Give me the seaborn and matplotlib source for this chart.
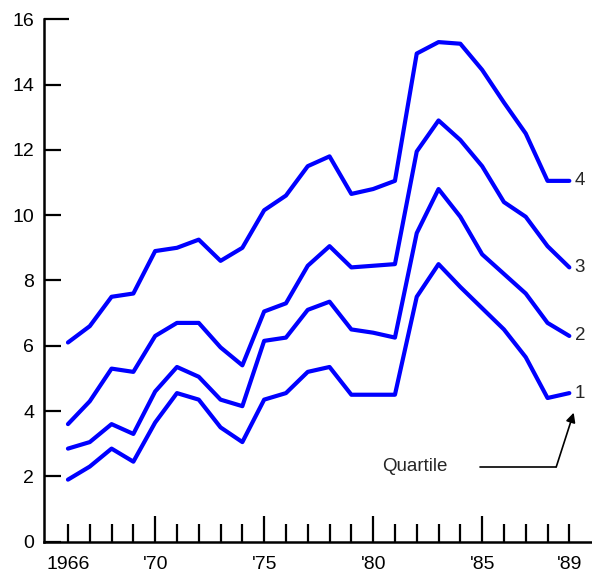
import pandas as pd
import seaborn as sns
import matplotlib.pyplot as plt

# ---- Data ----
years = list(range(1966, 1990))
q1 = [1.9, 2.3, 2.85, 2.45, 3.65, 4.55, 4.35, 3.5, 3.05, 4.35, 4.55, 5.2,
      5.35, 4.5, 4.5, 4.5, 7.5, 8.5, 7.8, 7.15, 6.5, 5.65, 4.4, 4.55]
q2 = [2.85, 3.05, 3.6, 3.3, 4.6, 5.35, 5.05, 4.35, 4.15, 6.15, 6.25, 7.1,
      7.35, 6.5, 6.4, 6.25, 9.45, 10.8, 9.95, 8.8, 8.2, 7.6, 6.7, 6.3]
q3 = [3.6, 4.3, 5.3, 5.2, 6.3, 6.7, 6.7, 5.95, 5.4, 7.05, 7.3, 8.45,
      9.05, 8.4, 8.45, 8.5, 11.95, 12.9, 12.3, 11.5, 10.4, 9.95, 9.05, 8.4]
q4 = [6.1, 6.6, 7.5, 7.6, 8.9, 9.0, 9.25, 8.6, 9.0, 10.15, 10.6, 11.5,
      11.8, 10.65, 10.8, 11.05, 14.95, 15.3, 15.25, 14.45, 13.45, 12.5, 11.05, 11.05]
quartiles = ["1", "2", "3", "4"]
tick_labels = {1966: "1966", 1970: "'70", 1975: "'75", 1980: "'80", 1985: "'85", 1989: "'89"}
long_ticks = [1970, 1975, 1980, 1985]

df = pd.DataFrame({
    "year": years * 4,
    "value": q1 + q2 + q3 + q4,
    "quartile": [q for q in quartiles for _ in years],
})

# ---- Plot ----
sns.set_style("ticks")
plt.rcParams["font.family"] = ["Liberation Sans", "DejaVu Sans"]

fig = plt.figure(figsize=(5.92, 5.76), dpi=100)
ax = fig.add_axes([0.0743, 0.0596, 0.9257, 0.907])

sns.lineplot(data=df, x="year", y="value", hue="quartile",
             palette=["#0000ff"] * 4, linewidth=3.0, legend=False, ax=ax)

ax.set_xlim(1964.9, 1990.04)
ax.set_ylim(0, 16)
ax.set_xlabel("")
ax.set_ylabel("")
sns.despine(ax=ax)
for side in ["left", "bottom"]:
    ax.spines[side].set_linewidth(1.8)
    ax.spines[side].set_color("black")

ax.set_yticks(range(0, 17, 2))
ax.set_xticks(years)
ax.set_xticklabels([tick_labels.get(y, "") for y in years])
ax.tick_params(axis="y", direction="in", length=12, width=1.6, pad=7,
               labelsize=14, colors="black")
ax.tick_params(axis="x", direction="in", length=13, width=1.6, pad=10,
               labelsize=14, colors="black")
for y, t in zip(years, ax.xaxis.get_major_ticks()):
    if y in long_ticks:
        t.tick1line.set_markersize(19)
ax.yaxis.get_major_ticks()[-1].tick1line.set_markersize(18)

# curve labels at right end
for name, vals in zip(quartiles, [q1, q2, q3, q4]):
    ax.text(years[-1] + 0.25, vals[-1], name, fontsize=13.5, va="center",
            ha="left", clip_on=False)

# "Quartile" pointer
ax.text(1980.4, 2.29, "Quartile", fontsize=13.5, va="center", ha="left")
ax.plot([1984.9, 1988.4], [2.29, 2.29], color="black", lw=1.2)
ax.annotate("", xy=(1989.2, 3.95), xytext=(1988.4, 2.29),
            arrowprops=dict(arrowstyle="-|>", color="black", lw=1.2,
                            mutation_scale=14, shrinkA=0, shrinkB=0))

plt.savefig("out.png", dpi=100)
plt.close()
